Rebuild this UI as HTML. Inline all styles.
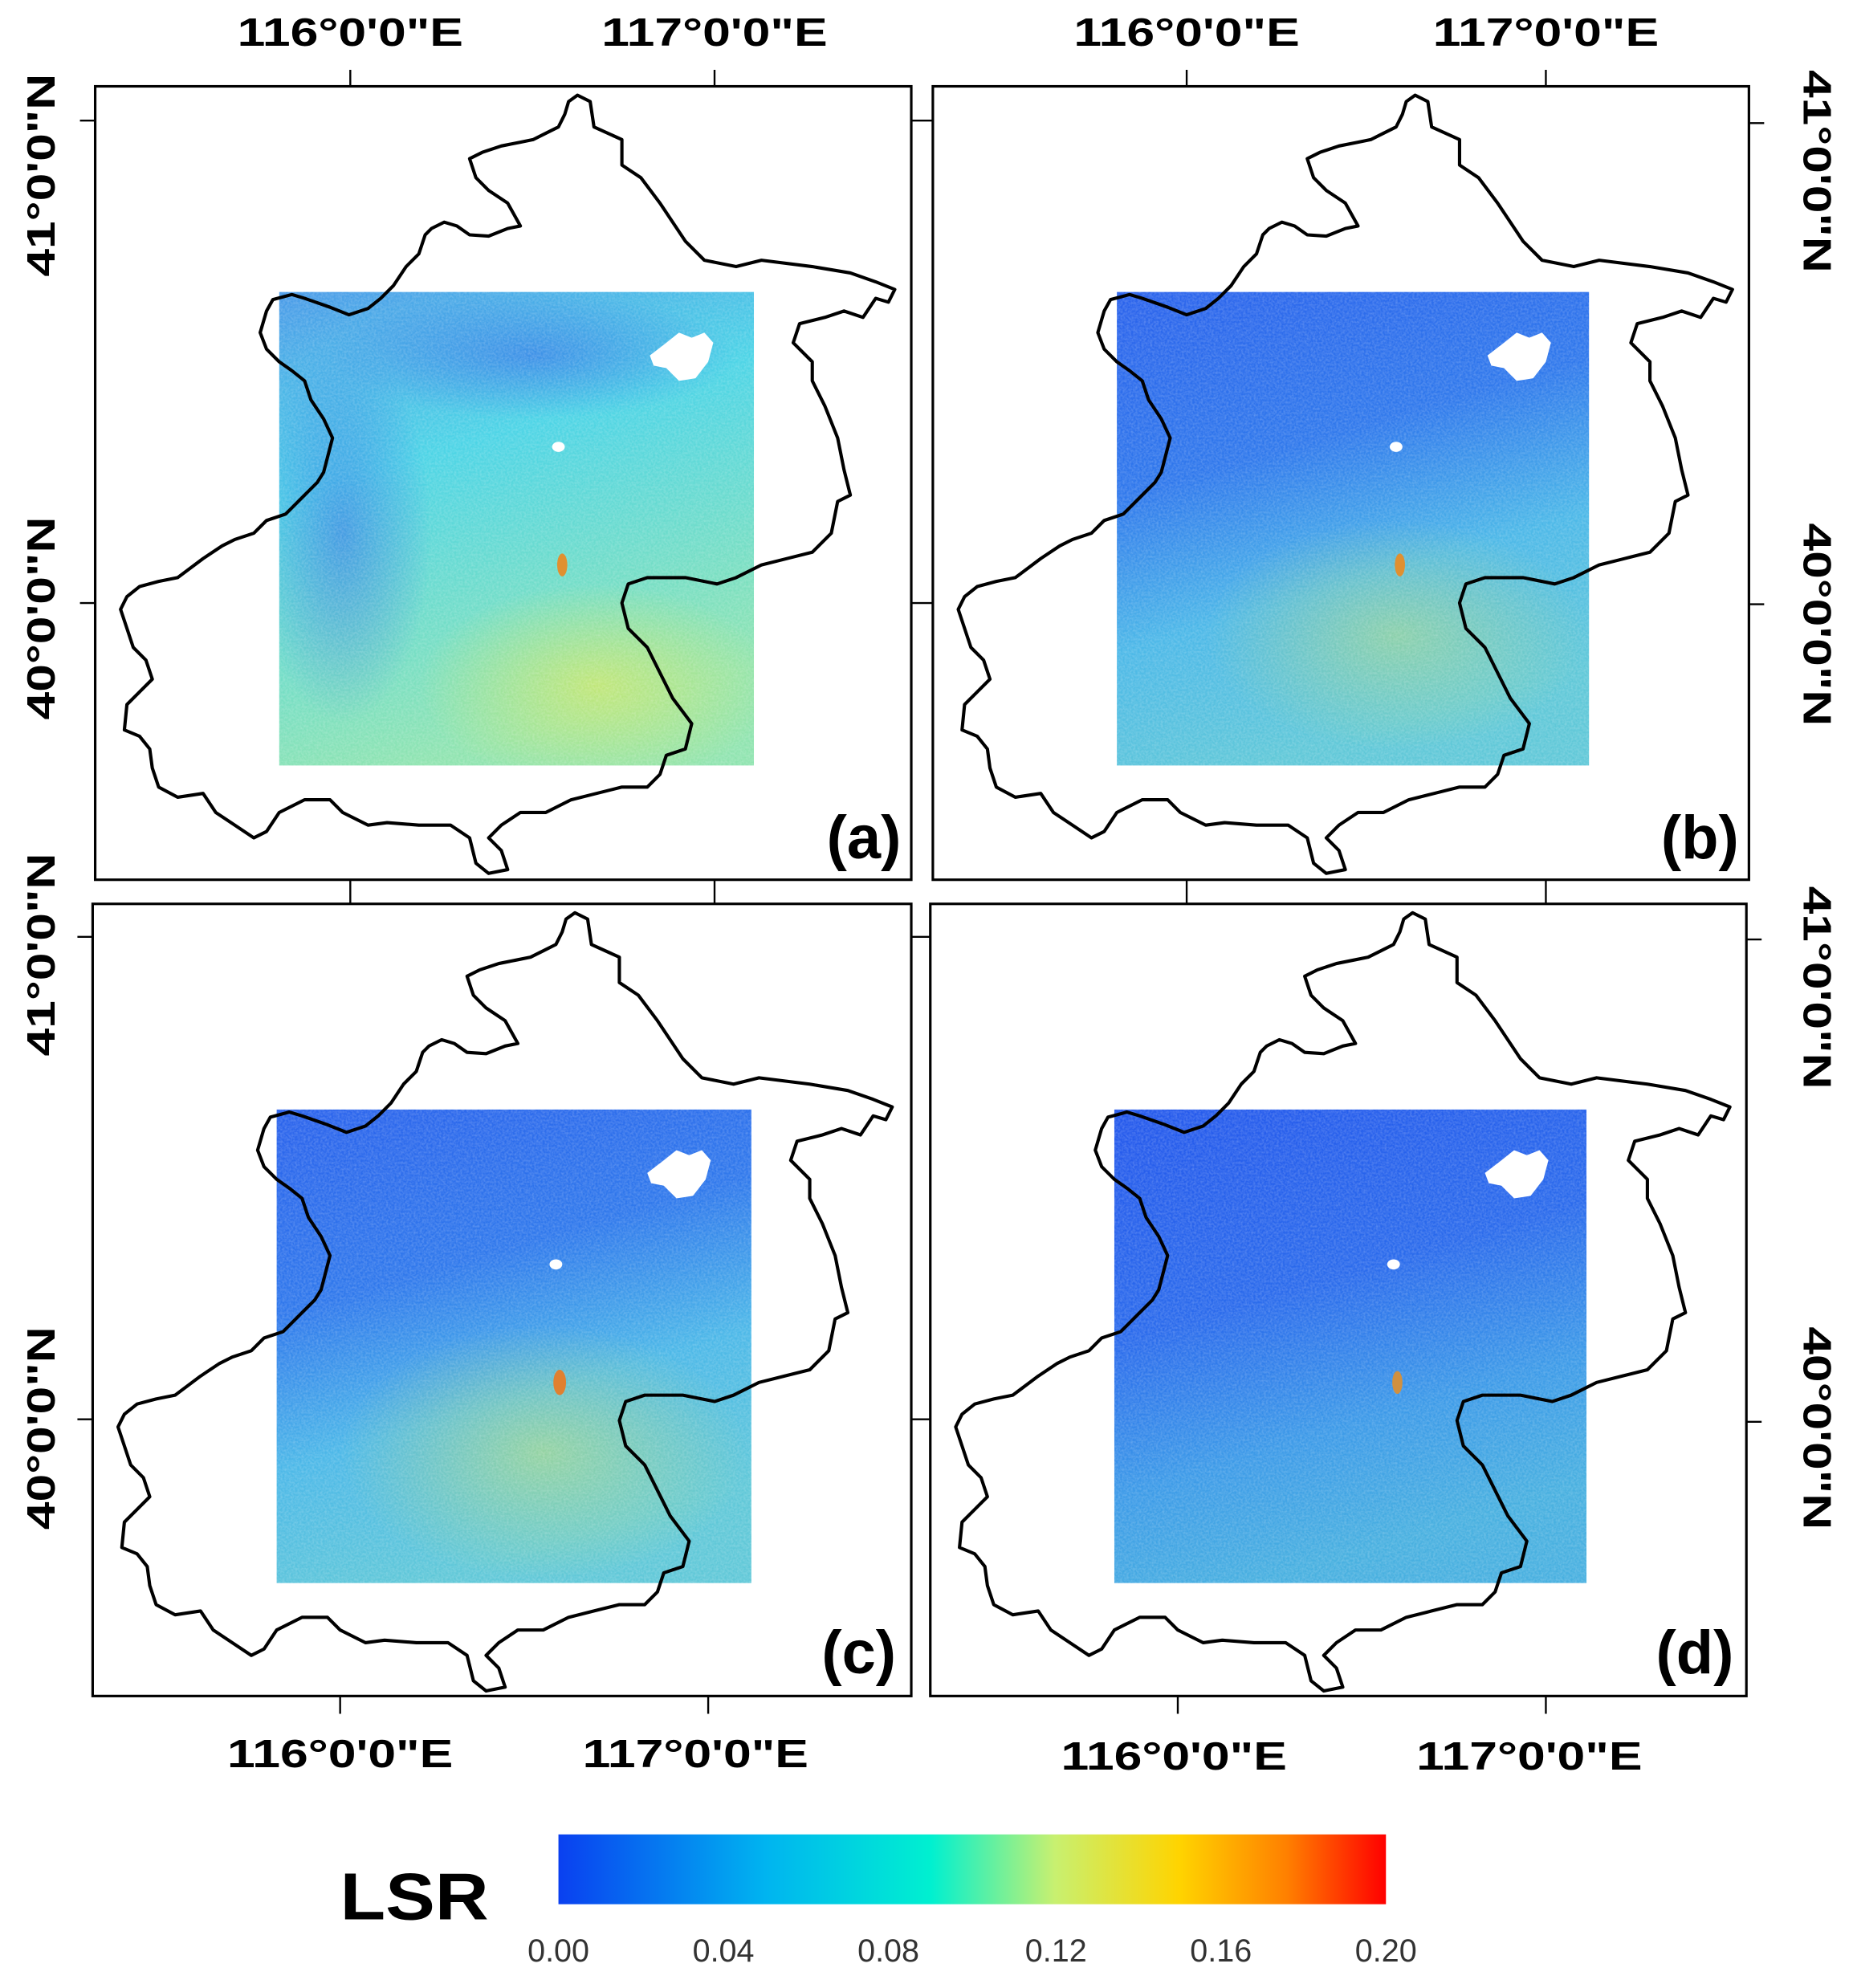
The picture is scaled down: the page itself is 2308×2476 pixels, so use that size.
<!DOCTYPE html>
<html><head><meta charset="utf-8"><style>html,body{margin:0;padding:0;background:#fff}svg{display:block}</style></head><body>
<svg xmlns="http://www.w3.org/2000/svg" width="2308" height="2476" viewBox="0 0 1460 1566" preserveAspectRatio="none">
<defs>
<clipPath id="clipA"><rect x="220" y="230" width="374" height="373"/></clipPath>
<linearGradient id="cb" x1="0" x2="1" y1="0" y2="0">
<stop offset="0" stop-color="#0a40f0"/><stop offset="0.25" stop-color="#00b4f0"/><stop offset="0.45" stop-color="#00f0d0"/><stop offset="0.6" stop-color="#c8f070"/><stop offset="0.75" stop-color="#ffd400"/><stop offset="0.88" stop-color="#ff8000"/><stop offset="1" stop-color="#ff0000"/>
</linearGradient>
<linearGradient id="ga" x1="0" y1="0" x2="0.3" y2="1"><stop offset="0" stop-color="#4a9ae8"/><stop offset="0.4" stop-color="#4cd4e6"/><stop offset="1" stop-color="#90e4b0"/></linearGradient>
<linearGradient id="gb" x1="0" y1="0" x2="0.3" y2="1"><stop offset="0" stop-color="#2a62ec"/><stop offset="0.4" stop-color="#2f78ec"/><stop offset="0.7" stop-color="#4cb8e8"/><stop offset="1" stop-color="#60c8d8"/></linearGradient>
<linearGradient id="gd" x1="0" y1="0" x2="0.3" y2="1"><stop offset="0" stop-color="#2458ec"/><stop offset="0.45" stop-color="#2a6aec"/><stop offset="0.75" stop-color="#3c9ae8"/><stop offset="1" stop-color="#48b0e0"/></linearGradient>
<radialGradient id="warm" cx="0.5" cy="0.5" r="0.5"><stop offset="0" stop-color="#d8e860" stop-opacity="0.7"/><stop offset="1" stop-color="#d8e860" stop-opacity="0"/></radialGradient>
<radialGradient id="cool" cx="0.5" cy="0.5" r="0.5"><stop offset="0" stop-color="#3060e8" stop-opacity="0.5"/><stop offset="1" stop-color="#3060e8" stop-opacity="0"/></radialGradient>
<filter id="nz" x="0" y="0" width="1" height="1"><feTurbulence type="fractalNoise" baseFrequency="0.6" numOctaves="2" seed="3"/><feColorMatrix type="matrix" values="0 0 0 0 1  0 0 0 0 1  0 0 0 0 1  0 0 0 0.35 -0.1"/></filter>
<path id="bj" fill="none" stroke="#000" stroke-width="2.6" stroke-linejoin="round" d="M455,75 L465,80 468,100 490,110 490,130 505,140 520,160 540,190 555,205 580,210 600,205 640,210 670,215 690,222 705,228 700,238 690,235 680,250 665,245 650,250 630,255 625,270 640,285 640,300 650,320 660,345 665,370 670,390 660,395 655,420 640,435 620,440 600,445 580,455 565,460 540,455 510,455 495,460 490,475 495,495 510,510 520,530 530,550 545,570 540,590 525,595 520,610 510,620 490,620 470,625 450,630 430,640 410,640 395,650 385,660 395,670 400,685 385,688 375,680 370,660 355,650 330,650 305,648 290,650 270,640 260,630 240,630 220,640 210,655 200,660 185,650 170,640 160,625 140,628 125,620 120,605 118,590 110,580 98,575 100,555 110,545 120,535 115,520 105,510 100,495 95,480 100,470 110,462 125,458 140,455 160,440 175,430 185,425 200,420 210,410 225,405 230,400 240,390 250,380 255,372 262,345 255,330 245,315 240,300 230,292 220,285 210,275 205,262 210,245 215,236 230,232 240,235 260,242 275,248 290,243 300,235 310,225 320,210 330,200 335,185 340,180 350,175 360,178 370,185 385,186 400,180 410,178 400,160 385,150 375,140 370,125 380,120 395,115 410,112 420,110 430,105 440,100 445,90 448,80 Z"/>
<g id="lake" fill="#fff"><path d="M512,280 L525,270 535,262 545,266 555,262 562,270 558,285 548,298 535,300 525,290 515,288 Z"/><ellipse cx="440" cy="352" rx="5" ry="4"/></g>
</defs>
<g font-family="Liberation Sans, Arial, sans-serif" font-weight="bold" fill="#000">
<!-- panel a -->
<rect x="220" y="230" width="374" height="373" fill="url(#ga)"/>
<g clip-path="url(#clipA)">
<ellipse cx="470" cy="540" rx="140" ry="80" fill="url(#warm)"/>
<ellipse cx="270" cy="420" rx="70" ry="150" fill="url(#cool)"/>
<ellipse cx="420" cy="280" rx="160" ry="50" fill="url(#cool)"/>
</g>
<rect x="220" y="230" width="374" height="373" filter="url(#nz)"/>
<use href="#lake"/>
<ellipse cx="443" cy="445" rx="4" ry="9" fill="#e09030"/>
<use href="#bj"/>
<rect x="75" y="68" width="643" height="625" fill="none" stroke="#000" stroke-width="2"/>
<!-- panel b -->
<g transform="translate(660,0)">
<rect x="220" y="230" width="372" height="373" fill="url(#gb)"/>
<ellipse cx="440" cy="500" rx="150" ry="90" fill="url(#warm)" opacity="0.6"/>
<rect x="220" y="230" width="372" height="373" filter="url(#nz)"/>
<use href="#lake"/>
<ellipse cx="443" cy="445" rx="4" ry="9" fill="#e09030"/>
<use href="#bj"/>
<rect x="75" y="68" width="643" height="625" fill="none" stroke="#000" stroke-width="2"/>
</g>
<!-- panel c -->
<g transform="translate(-2,644)">
<rect x="220" y="230" width="374" height="373" fill="url(#gb)"/>
<ellipse cx="430" cy="500" rx="160" ry="100" fill="url(#warm)" opacity="0.7"/>
<rect x="220" y="230" width="374" height="373" filter="url(#nz)"/>
<use href="#lake"/>
<ellipse cx="443" cy="445" rx="5" ry="10" fill="#e08030"/>
<use href="#bj"/>
<rect x="75" y="68" width="645" height="624" fill="none" stroke="#000" stroke-width="2"/>
</g>
<!-- panel d -->
<g transform="translate(658,644)">
<rect x="220" y="230" width="372" height="373" fill="url(#gd)"/>
<rect x="220" y="230" width="372" height="373" filter="url(#nz)"/>
<use href="#lake"/>
<ellipse cx="443" cy="445" rx="4" ry="9" fill="#d09040"/>
<use href="#bj"/>
<rect x="75" y="68" width="643" height="624" fill="none" stroke="#000" stroke-width="2"/>
</g>
<!-- ticks -->
<g stroke="#000" stroke-width="1.5">
<line x1="276" y1="68" x2="276" y2="55"/><line x1="563" y1="68" x2="563" y2="55"/>
<line x1="935" y1="68" x2="935" y2="55"/><line x1="1218" y1="68" x2="1218" y2="55"/>
<line x1="75" y1="95" x2="63" y2="95"/><line x1="75" y1="475" x2="63" y2="475"/>
<line x1="73" y1="738" x2="61" y2="738"/><line x1="73" y1="1118" x2="61" y2="1118"/>
<line x1="1378" y1="97" x2="1390" y2="97"/><line x1="1378" y1="476" x2="1390" y2="476"/>
<line x1="1376" y1="740" x2="1388" y2="740"/><line x1="1376" y1="1120" x2="1388" y2="1120"/>
<line x1="718" y1="95" x2="735" y2="95"/><line x1="718" y1="475" x2="735" y2="475"/>
<line x1="718" y1="738" x2="733" y2="738"/><line x1="718" y1="1118" x2="733" y2="1118"/>
<line x1="276" y1="693" x2="276" y2="712"/><line x1="563" y1="693" x2="563" y2="712"/>
<line x1="935" y1="693" x2="935" y2="712"/><line x1="1218" y1="693" x2="1218" y2="712"/>
<line x1="268" y1="1336" x2="268" y2="1350"/><line x1="558" y1="1336" x2="558" y2="1350"/>
<line x1="928" y1="1336" x2="928" y2="1350"/><line x1="1218" y1="1336" x2="1218" y2="1350"/>
</g>
<g font-size="31" text-anchor="middle">
<text x="276" y="36" textLength="178" lengthAdjust="spacingAndGlyphs">116°0'0"E</text>
<text x="563" y="36" textLength="178" lengthAdjust="spacingAndGlyphs">117°0'0"E</text>
<text x="935" y="36" textLength="178" lengthAdjust="spacingAndGlyphs">116°0'0"E</text>
<text x="1218" y="36" textLength="178" lengthAdjust="spacingAndGlyphs">117°0'0"E</text>
<text x="268" y="1392" textLength="178" lengthAdjust="spacingAndGlyphs">116°0'0"E</text>
<text x="548" y="1392" textLength="178" lengthAdjust="spacingAndGlyphs">117°0'0"E</text>
<text x="925" y="1394" textLength="178" lengthAdjust="spacingAndGlyphs">116°0'0"E</text>
<text x="1205" y="1394" textLength="178" lengthAdjust="spacingAndGlyphs">117°0'0"E</text>
<text transform="translate(43,138) rotate(-90)" textLength="160" lengthAdjust="spacingAndGlyphs">41°0'0"N</text>
<text transform="translate(43,487) rotate(-90)" textLength="160" lengthAdjust="spacingAndGlyphs">40°0'0"N</text>
<text transform="translate(43,752) rotate(-90)" textLength="160" lengthAdjust="spacingAndGlyphs">41°0'0"N</text>
<text transform="translate(43,1125) rotate(-90)" textLength="160" lengthAdjust="spacingAndGlyphs">40°0'0"N</text>
<text transform="translate(1421,135) rotate(90)" textLength="160" lengthAdjust="spacingAndGlyphs">41°0'0"N</text>
<text transform="translate(1421,492) rotate(90)" textLength="160" lengthAdjust="spacingAndGlyphs">40°0'0"N</text>
<text transform="translate(1421,778) rotate(90)" textLength="160" lengthAdjust="spacingAndGlyphs">41°0'0"N</text>
<text transform="translate(1421,1125) rotate(90)" textLength="160" lengthAdjust="spacingAndGlyphs">40°0'0"N</text>
</g>
<g font-size="48" text-anchor="end">
<text x="710" y="676">(a)</text>
<text x="1370" y="676">(b)</text>
<text x="706" y="1318">(c)</text>
<text x="1366" y="1318">(d)</text>
</g>
<!-- colorbar -->
<rect x="440" y="1445" width="652" height="55" fill="url(#cb)"/>
<text x="268" y="1512" font-size="52" textLength="117" lengthAdjust="spacingAndGlyphs">LSR</text>
<g font-size="25" font-weight="normal" fill="#333" text-anchor="middle">
<text x="440" y="1545">0.00</text><text x="570" y="1545">0.04</text><text x="700" y="1545">0.08</text>
<text x="832" y="1545">0.12</text><text x="962" y="1545">0.16</text><text x="1092" y="1545">0.20</text>
</g>
</g>
</svg>
</body></html>
